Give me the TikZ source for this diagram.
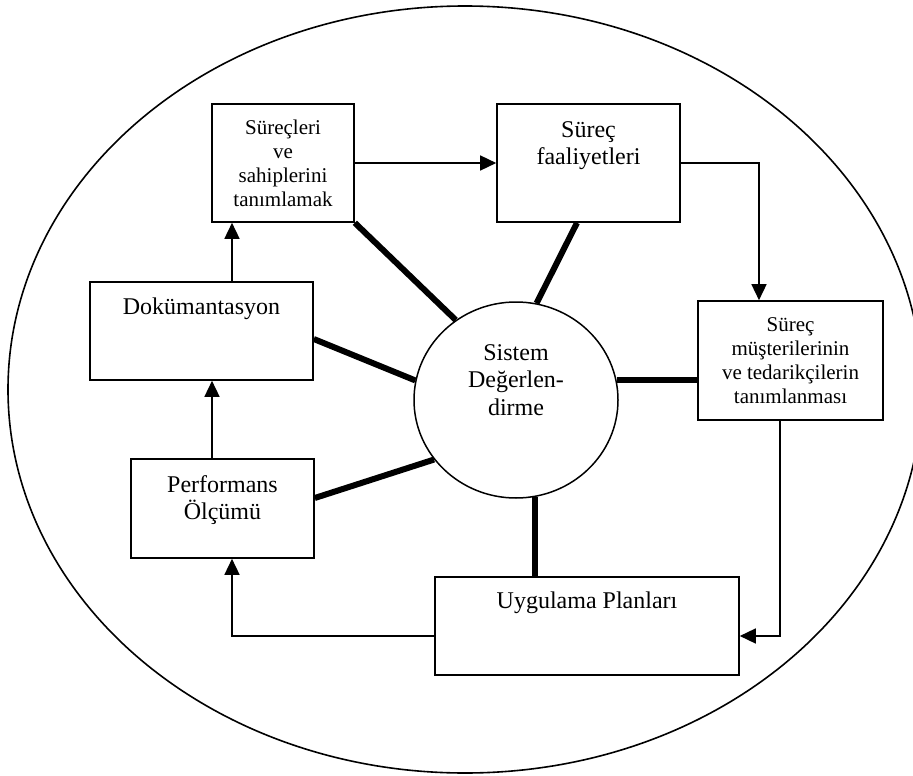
\documentclass[tikz,border=0pt]{standalone}
\usepackage{fontspec}
\setmainfont{Liberation Serif}
\usepackage{tikz}
\usetikzlibrary{arrows.meta,positioning,shapes.geometric}

\newcommand{\bigtxt}{\fontsize{24}{27.5}\selectfont}
\newcommand{\smalltxt}{\fontsize{21}{24}\selectfont}

\begin{document}
\begin{tikzpicture}
    [x=1pt, y=-1pt,
     box/.style={draw, line width=1.6pt, inner sep=0pt, align=center, font=\smalltxt},
     txt/.style={inner sep=0pt, align=center, font=\bigtxt},
     flow/.style={line width=1.5pt, -{Triangle[length=16pt, width=15pt]}},
     link/.style={line width=6pt}]
    \useasboundingbox (0,0) rectangle (913,776);
    \node[ellipse, draw, line width=1.6pt, inner sep=0pt,
          minimum width=914pt, minimum height=767pt] (frame) at (465,389.5) {};
    \node[ellipse, draw, line width=1.5pt, inner sep=0pt,
          minimum width=204pt, minimum height=196pt] (sys) at (516,400) {};
    \node[txt] (sys-t) at ([yshift=20pt]sys.center) {Sistem\\Değerlen-\\dirme};

    \node[box, minimum width=142pt, minimum height=118pt] (surec) at (283,163)
        {Süreçleri\\ve\\sahiplerini\\tanımlamak};
    \node[box, minimum width=183pt, minimum height=118pt] (faal) at (588.5,163) {};
    \node[box, minimum width=185pt, minimum height=119pt] (musteri) at (790.5,360.5)
        {Süreç\\müşterilerinin\\ve tedarikçilerin\\tanımlanması};
    \node[box, minimum width=304pt, minimum height=98pt] (plan) at (587,626) {};
    \node[box, minimum width=183pt, minimum height=99pt] (olcum) at (222.5,508.5) {};
    \node[box, minimum width=223pt, minimum height=98pt] (dok) at (201.5,331) {};

    \node[txt, below=18pt of faal.north] (faal-t) {Süreç\\faaliyetleri};
    \node[txt, below=15.5pt of plan.north] (plan-t) {Uygulama Planları};
    \node[txt, below=17pt of olcum.north] (olcum-t) {Performans\\Ölçümü};
    \node[txt, below=16pt of dok.north] (dok-t) {Dokümantasyon};

    \draw[flow] (surec) -- (faal);
    \draw[flow] (faal.east) -| ([xshift=-31.5pt]musteri.north);
    \draw[flow] ([xshift=-10.5pt]musteri.south) |- ([yshift=-10pt]plan.east);
    \draw[flow] ([yshift=-10pt]plan.west) -| ([xshift=9.5pt]olcum.south);
    \draw[flow] ([xshift=-10.5pt]olcum.north) -- ([xshift=-10.5pt]olcum.north |- dok.south);
    \draw[flow] ([xshift=30.5pt]dok.north) -- ([xshift=30.5pt]dok.north |- surec.south);

    \draw[link] (surec.south east) -- (sys.127);
    \draw[link] ([xshift=-11.5pt]faal.south) -- (sys.78);
    \draw[link] ([yshift=-8pt]dok.east) -- (sys.169);
    \draw[link] ([yshift=10.5pt]olcum.east) -- (sys.216.5);
    \draw[link] (sys.281.5) -- (sys.281.5 |- plan.north);
    \draw[link] (sys.11.3) -- (sys.11.3 -| musteri.west);
\end{tikzpicture}
\end{document}
